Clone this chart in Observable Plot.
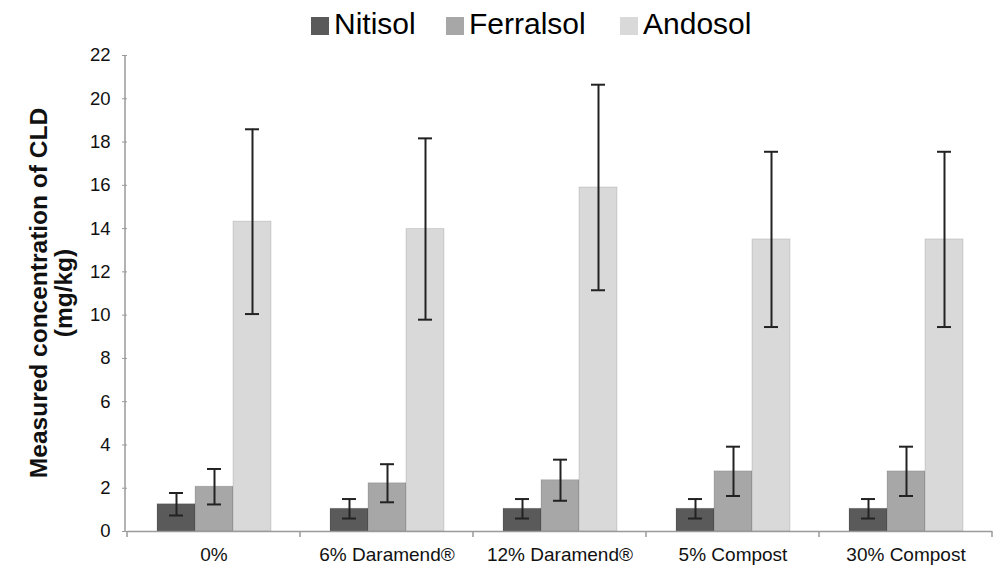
<!DOCTYPE html>
<html>
<head>
<meta charset="utf-8">
<script src="https://cdn.jsdelivr.net/npm/d3@7"></script>
<script src="https://cdn.jsdelivr.net/npm/@observablehq/plot@0.6"></script>
<style>
  html, body { margin: 0; padding: 0; background: #fff; }
  body { width: 995px; height: 573px; overflow: hidden; font-family: "Liberation Sans", Arial, sans-serif; }
  #legend { height: 36px; position: relative; z-index: 2; }
  .item { position: absolute; top: 6px; height: 36px; display: flex; align-items: center; font-size: 30px; color: #000; }
  .sw { width: 18px; height: 18px; margin-right: 5px; margin-top: 4px; }
  #chart svg { background: transparent !important; }
</style>
</head>
<body>
<div id="legend"></div>
<div id="chart"></div>
<script>
const categories = ["0%", "6% Daramend®", "12% Daramend®", "5% Compost", "30% Compost"];
const soils = ["Nitisol", "Ferralsol", "Andosol"];
const soilColors = ["#5a5a5a", "#a7a7a7", "#d9d9d9"];
const nitisol = [1.26, 1.05, 1.05, 1.05, 1.05];
const nitisolErr = [0.52, 0.45, 0.45, 0.45, 0.45];
const ferralsol = [2.07, 2.23, 2.37, 2.78, 2.78];
const ferralsolErr = [0.82, 0.88, 0.95, 1.14, 1.14];
const andosol = [14.32, 13.98, 15.9, 13.5, 13.5];
const andosolErr = [4.27, 4.19, 4.75, 4.05, 4.05];
const yTicks = [0, 2, 4, 6, 8, 10, 12, 14, 16, 18, 20, 22];
const yTitle = ["Measured concentration of CLD", "(mg/kg)"];

const series = [[nitisol, nitisolErr], [ferralsol, ferralsolErr], [andosol, andosolErr]];
const rows = [];
categories.forEach((cat, i) => {
  soils.forEach((soil, j) => {
    const v = series[j][0][i], e = series[j][1][i];
    rows.push({cat, soil, value: v, lo: v - e, hi: v + e});
  });
});

// Legend
const legend = document.getElementById("legend");
const legendX = [311, 446, 620];
soils.forEach((s, j) => {
  const d = document.createElement("div");
  d.className = "item";
  d.style.left = legendX[j] + "px";
  d.innerHTML = `<span class="sw" style="background:${soilColors[j]}"></span><span>${s}</span>`;
  legend.appendChild(d);
});

const plot = Plot.plot({
  width: 995,
  height: 537,
  marginTop: 19,
  marginBottom: 42,
  marginLeft: 125,
  marginRight: 1,
  style: {fontFamily: "'Liberation Sans', Arial, sans-serif", fontSize: "18px", color: "#000", background: "transparent"},
  fx: {domain: categories, paddingInner: 0, paddingOuter: 0, label: null},
  x: {domain: soils, paddingInner: 0, paddingOuter: 0.73, axis: null},
  y: {domain: [0, 22], label: null},
  color: {domain: soils, range: soilColors},
  marks: [
    Plot.axisY({ticks: yTicks, tickSize: 5, tickPadding: 12, stroke: "#9a9a9a", fill: "#111", label: null, fontSize: 18.5}),
    Plot.axisFx({anchor: "bottom", tickSize: 0, tickPadding: 16, label: null, fontSize: 19, fill: "#111"}),
    Plot.barY(rows, {fx: "cat", x: "soil", y: "value", fill: "soil", stroke: "rgba(0,0,0,0.12)", strokeWidth: 1}),
    Plot.ruleY([0], {stroke: "#9a9a9a", strokeWidth: 1.5}),
    Plot.ruleX(rows, {fx: "cat", x: "soil", y1: "lo", y2: "hi", stroke: "#222", strokeWidth: 2}),
    Plot.tickY(rows, {fx: "cat", x: "soil", y: "hi", insetLeft: 12, insetRight: 12, stroke: "#222", strokeWidth: 2}),
    Plot.tickY(rows, {fx: "cat", x: "soil", y: "lo", insetLeft: 12, insetRight: 12, stroke: "#222", strokeWidth: 2})
  ]
});
document.getElementById("chart").appendChild(plot);

// Axis line, category boundary ticks, two-line y title
const svg = d3.select(plot);
const fx = plot.scale("fx");
const y = plot.scale("y");
const y0 = y.apply(0), yTop = y.apply(22);
const g = svg.append("g");
g.append("line").attr("x1", 125).attr("x2", 125).attr("y1", y0).attr("y2", yTop)
  .attr("stroke", "#9a9a9a").attr("stroke-width", 1.5);
const bounds = categories.map(c => fx.apply(c));
bounds.push(fx.apply(categories[categories.length - 1]) + fx.bandwidth);
bounds.forEach(bx => {
  g.append("line").attr("x1", bx).attr("x2", bx).attr("y1", y0).attr("y2", y0 + 6)
    .attr("stroke", "#9a9a9a").attr("stroke-width", 1.5);
});
const yc = (y0 + yTop) / 2;
[38, 63].forEach((tx, k) => {
  g.append("text")
    .attr("transform", `translate(${tx},${yc}) rotate(-90)`)
    .attr("text-anchor", "middle").attr("dominant-baseline", "central")
    .attr("font-size", 24.5).attr("font-weight", "bold").attr("fill", "#111")
    .text(yTitle[k]);
});
</script>
</body>
</html>
